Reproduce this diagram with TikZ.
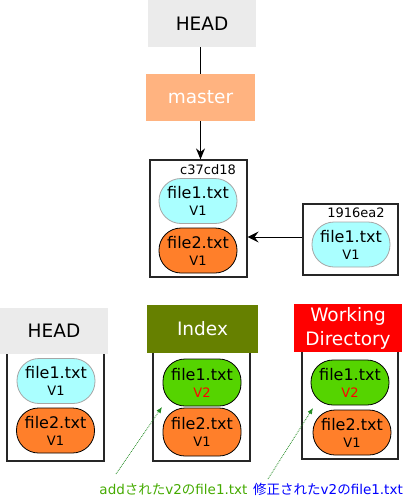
\documentclass[tikz,border=0pt]{standalone}
\usepackage{fontspec}
\setmainfont{DejaVu Sans}
\newfontfamily\jpfont{Noto Sans CJK JP}
\usetikzlibrary{arrows.meta}
\definecolor{headgray}{HTML}{EBEBEB}
\definecolor{masterorange}{HTML}{FFB380}
\definecolor{indexolive}{HTML}{668000}
\definecolor{wdred}{HTML}{FF0000}
\definecolor{blobcyan}{HTML}{AAFFFF}
\definecolor{bloborange}{HTML}{FF7F2A}
\definecolor{blobgreen}{HTML}{55D400}
\definecolor{notegreen}{HTML}{44AA00}
\definecolor{dotgreen}{HTML}{228B22}
\newcommand{\bigfont}{\fontsize{18.5}{24}\selectfont}
\newcommand{\blob}[2]{#1\\{\fontsize{13}{17}\selectfont #2}}

\begin{document}
\begin{tikzpicture}[x=1pt,y=-1pt]
\tikzstyle{label}=[rectangle,minimum height=47,font=\bigfont,inner sep=0pt]
\tikzstyle{box}=[rectangle,draw=black!85,line width=1.2pt]
\tikzstyle{file}=[rectangle,rounded corners=22pt,minimum width=78,minimum height=45,align=center,inner sep=0pt,line width=0.8pt,font=\fontsize{16}{17}\selectfont]
\tikzstyle{v1}=[file,fill=blobcyan,draw=black!35]
\tikzstyle{v1b}=[file,fill=bloborange,draw=black]
\tikzstyle{v2}=[file,fill=blobgreen,draw=black]
\tikzstyle{sha}=[font=\fontsize{13}{13}\selectfont,inner sep=0pt]
\tikzstyle{note}=[font=\fontsize{13.5}{14}\selectfont,inner sep=0pt]
\tikzstyle{hint}=[dotgreen,densely dotted,line width=0.8pt,-{Latex[length=6pt,width=5pt]}]
\useasboundingbox (0,0) rectangle (403,496);
% top: HEAD -> master -> commit
\node [label,fill=headgray,minimum width=108] (head) at (202,23.5) {HEAD};
\node [label,fill=masterorange,minimum width=109,text=white] (master) at (200.5,97.5) {master};
\node [box,minimum width=97,minimum height=117] (c37) at (198.5,218.5) {};
\node [sha] (c37sha) at (208,170) {c37cd18};
\node [v1] (c37a) at (198,201) {\blob{file1.txt}{V1}};
\node [v1b] (c37b) at (198,250.5) {\blob{file2.txt}{V1}};
\node [box,minimum width=95,minimum height=71] (old) at (350.5,239.5) {};
\node [sha] (oldsha) at (356,213) {1916ea2};
\node [v1] (olda) at (351,244.5) {\blob{file1.txt}{V1}};
\draw [line width=1pt] (head.south -| master.north) -- (master.north);
\draw [line width=1pt,-{Stealth[length=11pt,width=9pt]}] (master.south) -- (c37.north -| master.south);
\draw [line width=1pt,-{Stealth[length=11pt,width=11pt,inset=4pt]}] (old.west |- 0,237) -- (c37.east |- 0,237);
% bottom: HEAD / Index / Working Directory
\node [box,minimum width=97,minimum height=130] (headbox) at (55.5,396) {};
\node [label,fill=headgray,minimum width=108,minimum height=46] (head2) at (54,331) {HEAD};
\node [v1] (heada) at (56,381) {\blob{file1.txt}{V1}};
\node [v1b] (headb) at (55.5,430.5) {\blob{file2.txt}{V1}};
\node [box,minimum width=97,minimum height=130] (indexbox) at (201.5,396) {};
\node [label,fill=indexolive,minimum width=111,minimum height=48,text=white] (index) at (202.5,329) {Index};
\node [v2,minimum height=47] (indexa) at (202,382.5) {\blob{file1.txt}{\textcolor{red}{V2}}};
\node [v1b,minimum height=48] (indexb) at (202,432) {\blob{file2.txt}{V1}};
\node [box,minimum width=96,minimum height=128] (wdbox) at (350,395) {};
\node [label,fill=wdred,minimum width=108,minimum height=48,text=white,align=center,font=\fontsize{18.5}{24}\selectfont] (wd) at (348,328) {Working\\Directory};
\node [v2] (wda) at (350,382.5) {\blob{file1.txt}{\textcolor{red}{V2}}};
\node [v1b] (wdb) at (352,432.5) {\blob{file2.txt}{V1}};
% notes
\node [note,text=notegreen] (addnote) at (173.5,489) {add{\jpfont された}v2{\jpfont の}file1.txt};
\node [note,text=blue] (modnote) at (328,489) {{\jpfont 修正された}v2{\jpfont の}file1.txt};
\coordinate (addend) at (162,407);
\coordinate (modend) at (313,408);
\draw [hint] (116,474) -- (addend);
\draw [hint] (268,479) -- (modend);
\end{tikzpicture}
\end{document}
